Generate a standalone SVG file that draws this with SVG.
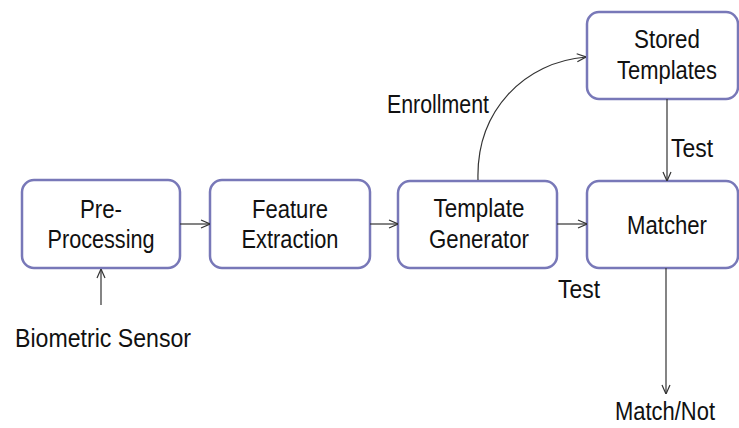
<svg xmlns="http://www.w3.org/2000/svg" width="739" height="428" viewBox="0 0 739 428">
<style>
.box{fill:#fff;stroke:#7878b8;stroke-width:2.5}
.t{font-family:"Liberation Sans",Arial,sans-serif;font-size:25px;fill:#111;text-anchor:middle}
.c{fill:none;stroke:#333;stroke-width:1.2}
</style>
<defs>
<marker id="a" viewBox="0 0 10 10" refX="10" refY="5" markerWidth="10" markerHeight="10" markerUnits="userSpaceOnUse" orient="auto">
<path d="M1,1 L10,5 L1,9" fill="none" stroke="#333" stroke-width="1.2"/>
</marker>
</defs>
<rect width="739" height="428" fill="#fff"/>
<g id="pre"><rect class="box" x="22" y="180" width="158" height="88" rx="12"/><text class="t" x="101" y="218" textLength="42" lengthAdjust="spacingAndGlyphs">Pre-</text><text class="t" x="101" y="248" textLength="107" lengthAdjust="spacingAndGlyphs">Processing</text></g>
<g id="feat"><rect class="box" x="210" y="180" width="160" height="88" rx="12"/><text class="t" x="290" y="218" textLength="76" lengthAdjust="spacingAndGlyphs">Feature</text><text class="t" x="290" y="248" textLength="97" lengthAdjust="spacingAndGlyphs">Extraction</text></g>
<g id="gen"><rect class="box" x="398" y="181" width="159" height="87" rx="12"/><text class="t" x="479" y="217" textLength="91" lengthAdjust="spacingAndGlyphs">Template</text><text class="t" x="479" y="248" textLength="100" lengthAdjust="spacingAndGlyphs">Generator</text></g>
<g id="matcher"><rect class="box" x="587" y="181" width="151" height="87" rx="12"/><text class="t" x="667" y="234" textLength="80" lengthAdjust="spacingAndGlyphs">Matcher</text></g>
<g id="stored"><rect class="box" x="587" y="12" width="151" height="87" rx="12"/><text class="t" x="667" y="48" textLength="66" lengthAdjust="spacingAndGlyphs">Stored</text><text class="t" x="667" y="79" textLength="100" lengthAdjust="spacingAndGlyphs">Templates</text></g>
<g id="labels">
<text class="t" x="438" y="113" textLength="102" lengthAdjust="spacingAndGlyphs">Enrollment</text>
<text class="t" x="692" y="157" textLength="42" lengthAdjust="spacingAndGlyphs">Test</text>
<text class="t" x="579" y="298" textLength="42" lengthAdjust="spacingAndGlyphs">Test</text>
<text class="t" x="103" y="347" textLength="176" lengthAdjust="spacingAndGlyphs">Biometric Sensor</text>
<text class="t" x="665" y="420" textLength="100" lengthAdjust="spacingAndGlyphs">Match/Not</text>
</g>
<g id="connectors">
<line class="c" x1="180" y1="224" x2="210" y2="224" marker-end="url(#a)"/>
<line class="c" x1="370" y1="224" x2="398" y2="224" marker-end="url(#a)"/>
<line class="c" x1="557" y1="224" x2="587" y2="224" marker-end="url(#a)"/>
<line class="c" x1="101" y1="305" x2="101" y2="269" marker-end="url(#a)"/>
<line class="c" x1="667" y1="99" x2="667" y2="181" marker-end="url(#a)"/>
<line class="c" x1="666" y1="268" x2="666" y2="394" marker-end="url(#a)"/>
<path class="c" d="M478,180 C476,110 525,62 586,57" marker-end="url(#a)"/>
</g>
</svg>
